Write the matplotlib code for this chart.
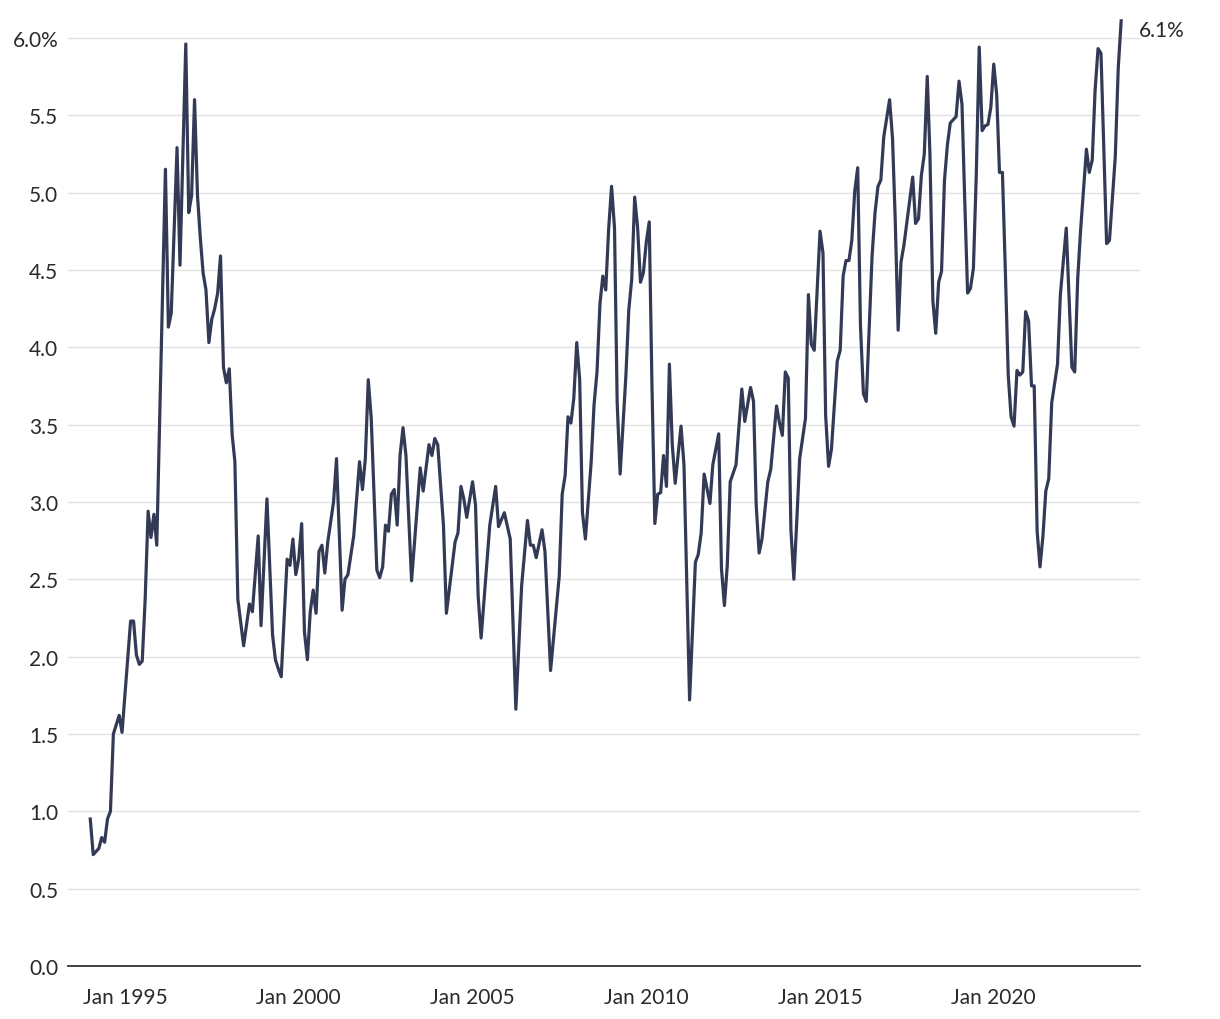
import matplotlib
matplotlib.use("Agg")
import matplotlib.pyplot as plt
import matplotlib.dates as mdates
import pandas as pd
import numpy as np

months = [
    "1994-01", "1994-02", "1994-04", "1994-05", "1994-06", "1994-07", "1994-08", "1994-09", "1994-11", "1994-12",
    "1995-03", "1995-04", "1995-05", "1995-06", "1995-07", "1995-08", "1995-09", "1995-10", "1995-11", "1995-12",
    "1996-03", "1996-04", "1996-05", "1996-07", "1996-08", "1996-10", "1996-11", "1996-12",
    "1997-01", "1997-02", "1997-03", "1997-04", "1997-05", "1997-06", "1997-07", "1997-08", "1997-09", "1997-10", "1997-11", "1997-12",
    "1998-01", "1998-02", "1998-03", "1998-04", "1998-06", "1998-08", "1998-09", "1998-11", "1998-12",
    "1999-02", "1999-04", "1999-05", "1999-06", "1999-07", "1999-09", "1999-10", "1999-11", "1999-12",
    "2000-01", "2000-02", "2000-03", "2000-04", "2000-05", "2000-06", "2000-07", "2000-08", "2000-09", "2000-10", "2000-11",
    "2001-01", "2001-02", "2001-04", "2001-05", "2001-06", "2001-08", "2001-10", "2001-11", "2001-12",
    "2002-01", "2002-02", "2002-04", "2002-05", "2002-06", "2002-07", "2002-08", "2002-09", "2002-10", "2002-11", "2002-12",
    "2003-01", "2003-02", "2003-04", "2003-06", "2003-07", "2003-08", "2003-10", "2003-11", "2003-12",
    "2004-01", "2004-03", "2004-04", "2004-07", "2004-08", "2004-09", "2004-10", "2004-11",
    "2005-01", "2005-02", "2005-03", "2005-04", "2005-07", "2005-09", "2005-10", "2005-12",
    "2006-02", "2006-04", "2006-06", "2006-08", "2006-09", "2006-10", "2006-11",
    "2007-01", "2007-02", "2007-04", "2007-07", "2007-08", "2007-09", "2007-10", "2007-11", "2007-12",
    "2008-01", "2008-02", "2008-03", "2008-04", "2008-06", "2008-07", "2008-08", "2008-09", "2008-10", "2008-11", "2008-12",
    "2009-01", "2009-02", "2009-03", "2009-04", "2009-06", "2009-07", "2009-08", "2009-09", "2009-10", "2009-11", "2009-12",
    "2010-01", "2010-02", "2010-03", "2010-04", "2010-05", "2010-06", "2010-07", "2010-08", "2010-09", "2010-10", "2010-11",
    "2011-01", "2011-02", "2011-04", "2011-06", "2011-07", "2011-08", "2011-09", "2011-11", "2011-12",
    "2012-02", "2012-03", "2012-04", "2012-05", "2012-06", "2012-08", "2012-10", "2012-11",
    "2013-01", "2013-02", "2013-03", "2013-04", "2013-05", "2013-07", "2013-08", "2013-10", "2013-11", "2013-12",
    "2014-01", "2014-02", "2014-03", "2014-04", "2014-05", "2014-06", "2014-08", "2014-09", "2014-10", "2014-11",
    "2015-01", "2015-02", "2015-03", "2015-04", "2015-05", "2015-07", "2015-08", "2015-09", "2015-10", "2015-11", "2015-12",
    "2016-01", "2016-02", "2016-03", "2016-04", "2016-05", "2016-07", "2016-08", "2016-09", "2016-10", "2016-11",
    "2017-01", "2017-02", "2017-03", "2017-04", "2017-05", "2017-06", "2017-09", "2017-10", "2017-11", "2017-12",
    "2018-01", "2018-02", "2018-03", "2018-04", "2018-05", "2018-06", "2018-07", "2018-08", "2018-09", "2018-10", "2018-12",
    "2019-01", "2019-02", "2019-03", "2019-04", "2019-05", "2019-06", "2019-07", "2019-08", "2019-09", "2019-10", "2019-11", "2019-12",
    "2020-01", "2020-02", "2020-03", "2020-04", "2020-05", "2020-06", "2020-07", "2020-08", "2020-09", "2020-10", "2020-11", "2020-12",
    "2021-01", "2021-02", "2021-03", "2021-04", "2021-05", "2021-06", "2021-07", "2021-08", "2021-09", "2021-11", "2021-12",
    "2022-02", "2022-04", "2022-05", "2022-06", "2022-07", "2022-09", "2022-10", "2022-11", "2022-12",
    "2023-01", "2023-02", "2023-04", "2023-05", "2023-07", "2023-08", "2023-09",
]

values = [
    0.95, 0.72, 0.76, 0.83, 0.80, 0.95, 1.00, 1.50, 1.62, 1.51,
    2.23, 2.23, 2.01, 1.95, 1.97, 2.37, 2.94, 2.77, 2.92, 2.72,
    5.15, 4.13, 4.22, 5.29, 4.53, 5.96, 4.87, 4.98,
    5.60, 4.98, 4.72, 4.48, 4.37, 4.03, 4.18, 4.25, 4.35, 4.59, 3.87, 3.77,
    3.86, 3.43, 3.26, 2.37, 2.07, 2.34, 2.29, 2.78, 2.20,
    3.02, 2.14, 1.98, 1.92, 1.87, 2.63, 2.59, 2.76, 2.53,
    2.63, 2.86, 2.16, 1.98, 2.29, 2.43, 2.28, 2.68, 2.72, 2.54, 2.74,
    3.00, 3.28, 2.30, 2.50, 2.53, 2.78, 3.26, 3.08, 3.28,
    3.79, 3.54, 2.56, 2.51, 2.58, 2.85, 2.81, 3.05, 3.08, 2.85, 3.30,
    3.48, 3.30, 2.49, 2.98, 3.22, 3.07, 3.37, 3.30, 3.41,
    3.37, 2.85, 2.28, 2.74, 2.80, 3.10, 3.02, 2.90,
    3.13, 2.98, 2.39, 2.12, 2.85, 3.10, 2.84, 2.93,
    2.76, 1.66, 2.46, 2.88, 2.72, 2.72, 2.64,
    2.82, 2.68, 1.91, 2.52, 3.05, 3.17, 3.55, 3.51, 3.67,
    4.03, 3.79, 2.93, 2.76, 3.26, 3.63, 3.84, 4.28, 4.46, 4.37, 4.76,
    5.04, 4.77, 3.64, 3.18, 3.82, 4.24, 4.44, 4.97, 4.78, 4.42, 4.48,
    4.68, 4.81, 3.77, 2.86, 3.05, 3.06, 3.30, 3.10, 3.89, 3.37, 3.12,
    3.49, 3.24, 1.72, 2.61, 2.66, 2.80, 3.18, 2.99, 3.24,
    3.44, 2.57, 2.33, 2.59, 3.13, 3.24, 3.73, 3.52,
    3.74, 3.65, 2.98, 2.67, 2.76, 3.13, 3.21, 3.62, 3.51, 3.43,
    3.84, 3.80, 2.82, 2.50, 2.87, 3.28, 3.54, 4.34, 4.02, 3.98,
    4.75, 4.61, 3.56, 3.23, 3.34, 3.91, 3.98, 4.46, 4.56, 4.56, 4.69,
    5.01, 5.16, 4.14, 3.70, 3.65, 4.59, 4.87, 5.04, 5.08, 5.36,
    5.60, 5.35, 4.83, 4.11, 4.55, 4.66, 5.10, 4.80, 4.83, 5.11,
    5.25, 5.75, 5.25, 4.30, 4.09, 4.42, 4.49, 5.08, 5.31, 5.45, 5.49,
    5.72, 5.57, 4.97, 4.35, 4.38, 4.51, 5.11, 5.94, 5.40, 5.43, 5.44, 5.55,
    5.83, 5.63, 5.13, 5.13, 4.51, 3.82, 3.55, 3.49, 3.85, 3.82, 3.84, 4.23,
    4.17, 3.75, 3.75, 2.81, 2.58, 2.78, 3.07, 3.15, 3.64, 3.89, 4.34,
    4.77, 3.87, 3.84, 4.44, 4.75, 5.28, 5.13, 5.21, 5.66,
    5.93, 5.90, 4.67, 4.69, 5.23, 5.80, 6.11,
]

y_ticks = [0.0, 0.5, 1.0, 1.5, 2.0, 2.5, 3.0, 3.5, 4.0, 4.5, 5.0, 5.5, 6.0]
x_tick_years = [1995, 2000, 2005, 2010, 2015, 2020]
end_label = "6.1%"

plt.rcParams["font.family"] = ["Lato", "DejaVu Sans"]

dates = pd.to_datetime(months, format="%Y-%m")

fig = plt.figure(figsize=(12.2, 10.2), dpi=100)
ax = fig.add_axes([68 / 1220, 1 - 967 / 1020, (1140 - 68) / 1220, (967 - 15.6) / 1020])

line_color = "#333a56"
ax.plot(dates, values, color=line_color, lw=2.3, solid_joinstyle="round", clip_on=False, zorder=3)

jan95 = mdates.date2num(pd.Timestamp("1995-01-01"))
ax.set_xlim(jan95 - 599, jan95 + 10668)
ax.set_ylim(0, 6.15)

ax.set_yticks(y_ticks)
ylabels = [f"{v:.1f}" for v in y_ticks]
ylabels[-1] = ylabels[-1] + "%"
ax.set_yticklabels(ylabels)
ax.set_xticks([pd.Timestamp(f"{y}-01-01") for y in x_tick_years])
ax.set_xticklabels([f"Jan {y}" for y in x_tick_years])

text_color = "#2a2a2a"
ax.grid(axis="y", color="#e3e3e3", lw=1.0, zorder=0)
ax.set_axisbelow(True)
for s in ["top", "right", "left"]:
    ax.spines[s].set_visible(False)
ax.spines["bottom"].set_color("#333333")
ax.spines["bottom"].set_linewidth(1.3)
ax.tick_params(axis="both", length=0, labelsize=15, colors=text_color)
ax.tick_params(axis="y", pad=7)
ax.tick_params(axis="x", pad=15)

ax.annotate(end_label, xy=(dates[-1], values[-1]), xytext=(13, -6.5), textcoords="offset points",
            ha="left", va="center", fontsize=15, color=text_color, annotation_clip=False)

fig.savefig("out.png", dpi=100, facecolor="white")
